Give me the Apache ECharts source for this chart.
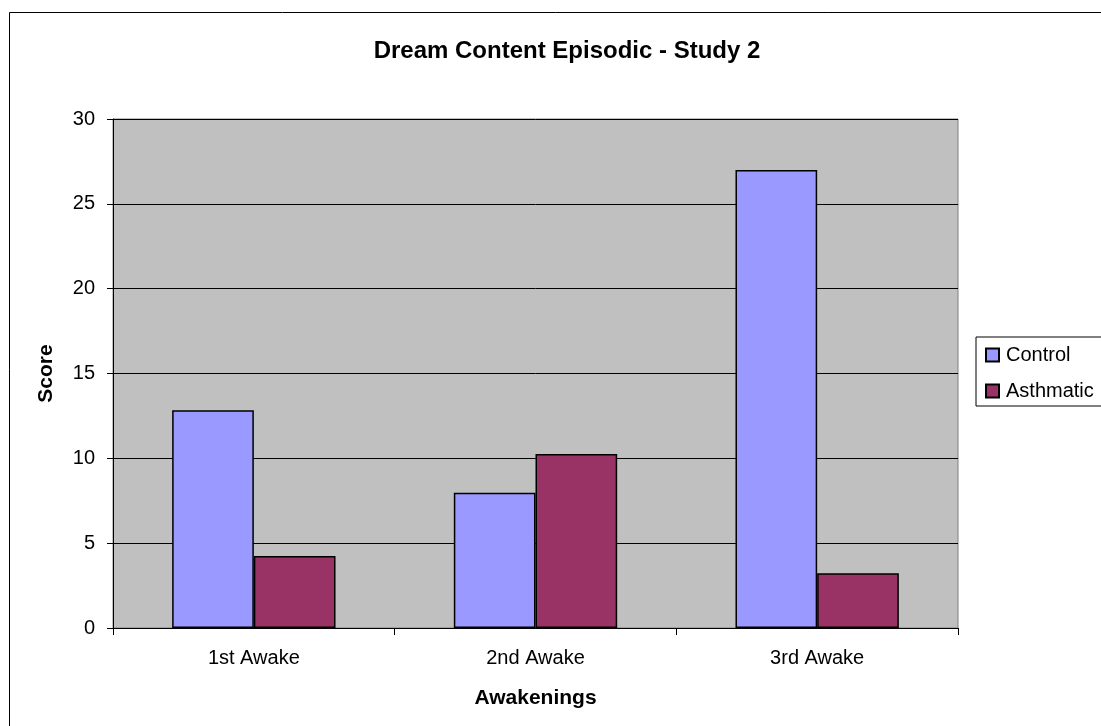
<!DOCTYPE html>
<html>
<head>
<meta charset="utf-8">
<script src="https://cdn.jsdelivr.net/npm/echarts@6/dist/echarts.min.js"></script>
<style>
  html, body { margin: 0; padding: 0; background: #fff; }
  #main { width: 1101px; height: 726px; }
</style>
</head>
<body>
<div id="main"></div>
<script>
var categories = ['1st Awake', '2nd Awake', '3rd Awake'];
var control = [12.83, 7.97, 27];
var asthmatic = [4.25, 10.25, 3.22];
var yTicks = [0, 30, 5];  // min, max, step

var myChart = echarts.init(document.getElementById('main'));

var font = 'Liberation Sans, Arial, sans-serif';

var option = {
    animation: false,
    backgroundColor: '#fff',
    title: {
        text: 'Dream Content Episodic - Study 2',
        left: 562,
        top: 34,
        textAlign: 'center',
        textStyle: { fontFamily: font, fontSize: 24, fontWeight: 'bold', color: '#000' }
    },
    graphic: [{
        type: 'rect',
        shape: { x: 9.5, y: 12.5, width: 1200, height: 800 },
        style: { fill: 'none', stroke: '#000', lineWidth: 1 },
        silent: true,
        z: -1
    }],
    legend: {
        orient: 'vertical',
        left: 976,
        top: 337,
        padding: [8, 20, 5, 9],
        itemWidth: 13,
        itemHeight: 13,
        itemGap: 16,
        borderColor: '#000',
        borderWidth: 1,
        backgroundColor: '#fff',
        icon: 'rect',
        textStyle: { fontFamily: font, fontSize: 20, color: '#000', padding: [0, 0, 0, 2] },
        data: ['Control', 'Asthmatic']
    },
    grid: {
        left: 113,
        top: 119,
        width: 845,
        height: 509,
        show: true,
        backgroundColor: '#c0c0c0',
        borderColor: '#808080',
        borderWidth: 1,
        containLabel: false
    },
    xAxis: {
        type: 'category',
        data: categories,
        name: 'Awakenings',
        nameLocation: 'middle',
        nameGap: 60,
        nameTextStyle: { fontFamily: font, fontSize: 21, fontWeight: 'bold', color: '#000' },
        axisLine: { lineStyle: { color: '#000', width: 1 } },
        axisTick: { show: true, length: 7, lineStyle: { color: '#000' } },
        axisLabel: { fontFamily: font, fontSize: 20, color: '#000', margin: 20 },
        splitLine: { show: false }
    },
    yAxis: {
        type: 'value',
        min: yTicks[0],
        max: yTicks[1],
        interval: yTicks[2],
        name: 'Score',
        nameLocation: 'middle',
        nameGap: 56,
        nameRotate: 90,
        nameTextStyle: { fontFamily: font, fontSize: 21, fontWeight: 'bold', color: '#000' },
        axisLine: { show: true, lineStyle: { color: '#000', width: 1 } },
        axisTick: { show: true, length: 6, lineStyle: { color: '#000' } },
        axisLabel: { fontFamily: font, fontSize: 20, color: '#000', margin: 18 },
        splitLine: { show: true, lineStyle: { color: '#000', width: 1 } }
    },
    series: [
        {
            name: 'Control',
            type: 'bar',
            data: control,
            barGap: '0%',
            barCategoryGap: '42%',
            itemStyle: { color: '#9999ff', borderColor: '#000', borderWidth: 1.5 }
        },
        {
            name: 'Asthmatic',
            type: 'bar',
            data: asthmatic,
            barGap: '0%',
            barCategoryGap: '42%',
            itemStyle: { color: '#993366', borderColor: '#000', borderWidth: 1.5 }
        }
    ]
};

myChart.setOption(option);
</script>
</body>
</html>
